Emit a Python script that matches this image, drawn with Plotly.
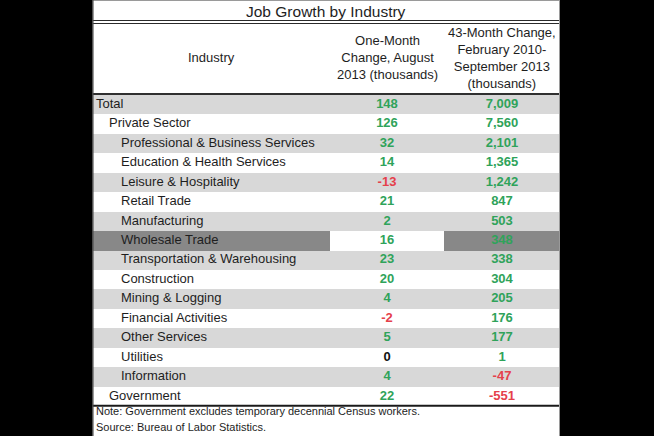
import plotly.graph_objects as go

# ---------------- data ----------------
title = "Job Growth by Industry"
col_headers = [
    "Industry",
    "One-Month<br>Change, August<br>2013 (thousands)",
    "43-Month Change,<br>February 2010-<br>September 2013<br>(thousands)",
]
industries = [
    "Total", "Private Sector", "Professional & Business Services",
    "Education & Health Services", "Leisure & Hospitality", "Retail Trade",
    "Manufacturing", "Wholesale Trade", "Transportation & Warehousing",
    "Construction", "Mining & Logging", "Financial Activities",
    "Other Services", "Utilities", "Information", "Government",
]
levels = [0, 1, 2, 2, 2, 2, 2, 2, 2, 2, 2, 2, 2, 2, 2, 1]
one_month = [148, 126, 32, 14, -13, 21, 2, 16, 23, 20, 4, -2, 5, 0, 4, 22]
change_43m = [7009, 7560, 2101, 1365, 1242, 847, 503, 348, 338, 304, 205,
              176, 177, 1, -47, -551]
highlight = "Wholesale Trade"
notes = [
    "Note: Government excludes temporary decennial Census workers.",
    "Source: Bureau of Labor Statistics.",
]

# ---------------- layout constants ----------------
W, H = 654, 436
TABLE_L, TABLE_R = 92, 560
COL_W = [238, 114, 116]
ROWS_TOP, ROWS_BOT = 95, 406
INDENT = {0: 4, 1: 17, 2: 29}
FONT = "Liberation Sans, Arial, sans-serif"
GREEN, RED, ZERO = "#2fa35a", "#e5404b", "#111111"
TEXT = "#1e1e1e"


def px(p):
    return p / W


def py(p):
    return 1 - p / H


edges = [0]
for w in COL_W:
    edges.append(edges[-1] + w)
centers = [(edges[i] + edges[i + 1]) / 2 for i in range(len(COL_W))]
rows = list(range(len(industries)))

# shading: alternating rows, highlighted row dark with white middle cell
z = []
for i, name in enumerate(industries):
    base = 1 if i % 2 == 0 else 0
    z.append([2, 0, 2] if name == highlight else [base] * 3)


def sign_color(v):
    return GREEN if v > 0 else (RED if v < 0 else ZERO)


fig = go.Figure()
fig.add_trace(go.Heatmap(
    x=edges, y=rows, z=z, zmin=0, zmax=2,
    colorscale=[[0, "#ffffff"], [0.5, "#d8d8d8"], [1, "#888888"]],
    showscale=False, hoverinfo="skip", xgap=0, ygap=0,
))
fig.add_trace(go.Scatter(
    x=[INDENT[l] for l in levels], y=rows, text=industries,
    mode="text", textposition="middle right",
    textfont=dict(family=FONT, size=13, color=TEXT),
    hoverinfo="skip", showlegend=False,
))
fig.add_trace(go.Scatter(
    x=[centers[1]] * len(rows), y=rows, text=[f"{v:,}" for v in one_month],
    mode="text", textposition="middle center",
    textfont=dict(family=FONT, size=13, weight="bold",
                  color=[sign_color(v) for v in one_month]),
    hoverinfo="skip", showlegend=False,
))
fig.add_trace(go.Scatter(
    x=[centers[2]] * len(rows), y=rows, text=[f"{v:,}" for v in change_43m],
    mode="text", textposition="middle center",
    textfont=dict(family=FONT, size=13, weight="bold",
                  color=[sign_color(v) for v in change_43m]),
    hoverinfo="skip", showlegend=False,
))

annotations = [dict(
    text=title, xref="paper", yref="paper", x=px((TABLE_L + TABLE_R) / 2),
    y=py(11), xanchor="center", yanchor="middle", showarrow=False,
    font=dict(family=FONT, size=15.5, color=TEXT),
)]
for c, h in zip(centers, col_headers):
    annotations.append(dict(
        text=h, xref="x", yref="paper", x=c, y=py(58), xanchor="center",
        yanchor="middle", showarrow=False, align="center",
        font=dict(family=FONT, size=13, color=TEXT),
    ))
for k, n in enumerate(notes):
    annotations.append(dict(
        text=n, xref="paper", yref="paper", x=px(94), y=py(411 + 16 * k),
        xanchor="left", yanchor="middle", showarrow=False,
        font=dict(family=FONT, size=11, color=TEXT),
    ))


def hline(y, color, width):
    return dict(type="line", xref="paper", yref="paper", x0=px(TABLE_L),
                x1=px(TABLE_R), y0=py(y), y1=py(y),
                line=dict(color=color, width=width), layer="above")


def vline(x, color, width):
    return dict(type="line", xref="paper", yref="paper", x0=px(x), x1=px(x),
                y0=0, y1=1, line=dict(color=color, width=width), layer="above")


shapes = [
    dict(type="rect", xref="paper", yref="paper", x0=px(TABLE_L), x1=px(TABLE_R),
         y0=0, y1=1, fillcolor="#ffffff", line=dict(width=0), layer="below"),
    hline(0.5, "#9a9a9a", 1),
    hline(20.5, "#2b2b2b", 1),
    hline(23.5, "#2b2b2b", 1),
    hline(94, "#303030", 2),
    hline(405.8, "#1a1a1a", 2),
    vline(92.8, "#4a4a4a", 1.5),
    vline(559.5, "#9a9a9a", 1),
]

fig.update_layout(
    width=W, height=H, margin=dict(l=0, r=0, t=0, b=0, pad=0),
    paper_bgcolor="#000000", plot_bgcolor="#ffffff",
    xaxis=dict(range=[0, edges[-1]], domain=[px(TABLE_L), px(TABLE_R)],
               visible=False, fixedrange=True),
    yaxis=dict(range=[len(rows) - 0.5, -0.5],
               domain=[py(ROWS_BOT), py(ROWS_TOP)],
               visible=False, fixedrange=True),
    annotations=annotations, shapes=shapes, showlegend=False,
    hovermode=False,
)

fig.write_html(
    "out.html",
    config={"displayModeBar": False},
    post_script="document.body.style.margin='0';"
                "document.body.style.overflow='hidden';"
                "document.body.style.background='#000';",
)
